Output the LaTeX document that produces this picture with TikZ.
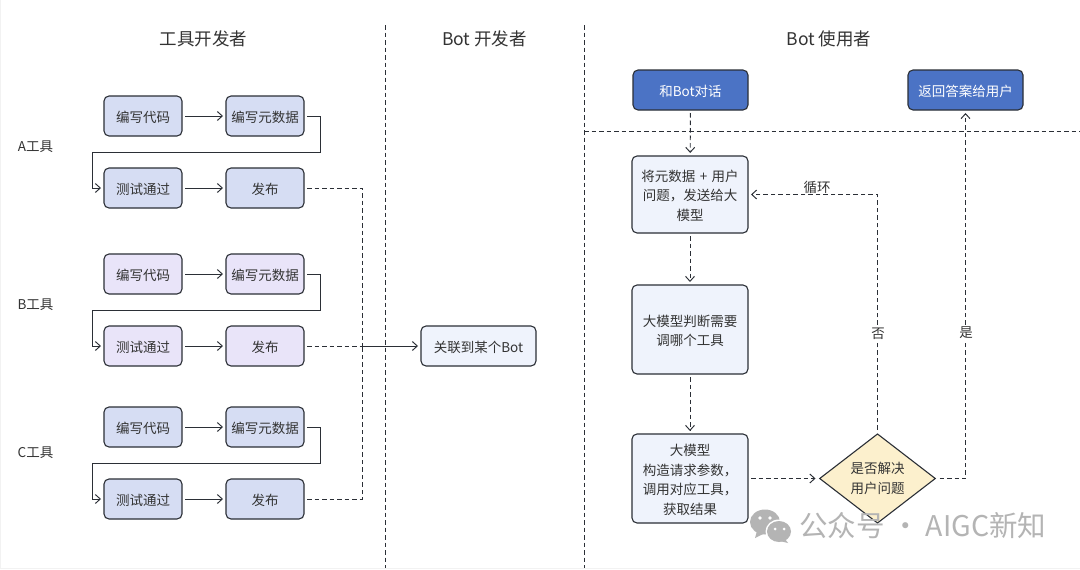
\documentclass[tikz,border=0pt]{standalone}
\usepackage{fontspec}
\setmainfont{Noto Sans CJK SC}
\usetikzlibrary{arrows.meta,shapes.geometric}
\definecolor{txt}{HTML}{333333}
\definecolor{edge}{HTML}{2B2F36}
\definecolor{fillA}{HTML}{D6DDF3}
\definecolor{fillB}{HTML}{E9E4F9}
\definecolor{fillL}{HTML}{EFF3FC}
\definecolor{fillY}{HTML}{FCF0CD}
\definecolor{fillD}{HTML}{4B73C5}
\definecolor{wm}{HTML}{B4B4B4}
\tikzset{
  x=1pt,y=-1pt,
  every node/.style={text=txt,font=\fontsize{13.5}{19.5}\selectfont},
  boxbase/.style={draw=edge,line width=1.1pt,rounded corners=5pt,align=center,inner sep=0pt,outer sep=3pt,execute at begin node={\rule{0pt}{14pt}}},
  smallbox/.style={boxbase,minimum width=78pt,minimum height=40pt},
  boxa/.style={smallbox,fill=fillA},
  boxb/.style={smallbox,fill=fillB},
  widebox/.style={boxbase,fill=fillL,minimum width=116pt,text width=108pt},
  darkbox/.style={boxbase,fill=fillD,minimum width=115pt,minimum height=40pt,text=white},
  decision/.style={diamond,draw=edge,line width=1.1pt,fill=fillY,aspect=1.29,minimum width=118pt,minimum height=91.5pt,inner sep=0pt,outer sep=3pt,align=center,execute at begin node={\rule{0pt}{14pt}}},
  solidarrow/.style={draw=edge,line width=0.95pt,-{Straight Barb[length=5pt,width=9pt]}},
  dashline/.style={draw=edge,line width=0.95pt,dash pattern=on 4.5pt off 3pt},
  dasharrow/.style={dashline,-{Straight Barb[length=5pt,width=9pt]}},
  divider/.style={draw=edge,line width=0.95pt,dash pattern=on 4.5pt off 3pt},
  head/.style={font=\fontsize{17.5}{20}\selectfont},
}
\begin{document}
\begin{tikzpicture}
\useasboundingbox (0,0) rectangle (1080,570);
\fill[white] (0,0) rectangle (1080,570);
\draw[draw=black!5,line width=1pt] (0.5,0) -- (0.5,568.5) -- (1080,568.5);

% dividers
\coordinate (d1t) at (385,25); \coordinate (d1b) at (385,568);
\coordinate (d2t) at (584,25); \coordinate (d2b) at (584,568);
\coordinate (hl) at (584,131); \coordinate (hr) at (1080,131);
\draw[divider] (d1t) -- (d1b);
\draw[divider] (d2t) -- (d2b);
\draw[divider] (hl) -- (hr);

% titles
\node[head] (t1) at (203.5,39) {工具开发者};
\node[head] (t2) at (484.5,39) {Bot 开发者};
\node[head] (t3) at (829,39) {Bot 使用者};
\node (la) at (35.5,147) {A工具};
\node (lb) at (35.5,305) {B工具};
\node (lc) at (35.5,453) {C工具};

% tool A
\node[boxa] (a1) at (143,116) {编写代码};
\node[boxa] (a2) at (265,116) {编写元数据};
\node[boxa] (a3) at (143,188) {测试通过};
\node[boxa] (a4) at (265,188) {发布};
% tool B
\node[boxb] (b1) at (143,274) {编写代码};
\node[boxb] (b2) at (265,274) {编写元数据};
\node[boxb] (b3) at (143,346) {测试通过};
\node[boxb] (b4) at (265,346) {发布};
% tool C
\node[boxa] (c1) at (143,427) {编写代码};
\node[boxa] (c2) at (265,427) {编写元数据};
\node[boxa] (c3) at (143,499) {测试通过};
\node[boxa] (c4) at (265,499) {发布};

\foreach \k in {a,b,c}{
  \draw[solidarrow] (\k1) -- (\k2);
  \draw[solidarrow] (\k3) -- (\k4);
  \draw[solidarrow] (\k2.east) -- ++(13,0) -- ++(0,36) -- ++(-228,0) -- ++(0,36) -- (\k3.west);
}

% bot
\node[boxbase,fill=fillL,minimum width=115pt,minimum height=40pt] (bot) at (478.5,346) {关联到某个Bot};
\coordinate (bus) at (362,346);
\draw[dashline] (a4.east) -| (bus);
\draw[dashline] (c4.east) -| (bus);
\draw[dashline] (b4.east) -- (bus);
\draw[solidarrow] (bus) -- (bot.west);

% user
\node[darkbox] (chat) at (690.5,90) {和Bot对话};
\node[darkbox] (ret) at (965.5,90) {返回答案给用户};
\node[widebox,minimum height=77pt] (send) at (690,194.5) {将元数据 + 用户\\问题，发送给大\\模型};
\node[widebox,minimum height=89pt] (judge) at (690,329.5) {大模型判断需要\\调哪个工具};
\node[widebox,minimum height=89pt] (call) at (690,478.5) {大模型\\构造请求参数，\\调用对应工具，\\获取结果};
\node[decision] (dec) at (877.5,478.5) {是否解决\\用户问题};

\draw[dasharrow] (chat) -- (send);
\draw[dasharrow] (send) -- (judge);
\draw[dasharrow] (judge) -- (call);
\draw[dasharrow] (call) -- (dec);
\draw[dasharrow] (dec.north) |- (send.east);
\draw[dasharrow] (dec.east) -| (ret.south);
\node[fill=white,inner sep=2pt] (no) at (878,334) {否};
\node[fill=white,inner sep=2pt] (yes) at (966,333) {是};
\node (loop) at (817,187) {循环};

% watermark
\fill[wm] (765,522) ellipse (15pt and 12.5pt);
\fill[wm] (757,531) -- (755,538) -- (765,533) -- cycle;
\fill[white] (779,531.5) ellipse (13.5pt and 12pt);
\fill[wm] (779,531.5) ellipse (12pt and 10.5pt);
\fill[wm] (785,539) -- (788,543) -- (780,541) -- cycle;
\fill[white] (760,518) circle (1.8pt) (770,518) circle (1.8pt) (775,529) circle (1.5pt) (784,529) circle (1.5pt);
\node[text=wm,font=\fontsize{28.5}{32}\selectfont,anchor=west,inner sep=0pt] (mark) at (799,526) {公众号 · AIGC新知};
\end{tikzpicture}
\end{document}
